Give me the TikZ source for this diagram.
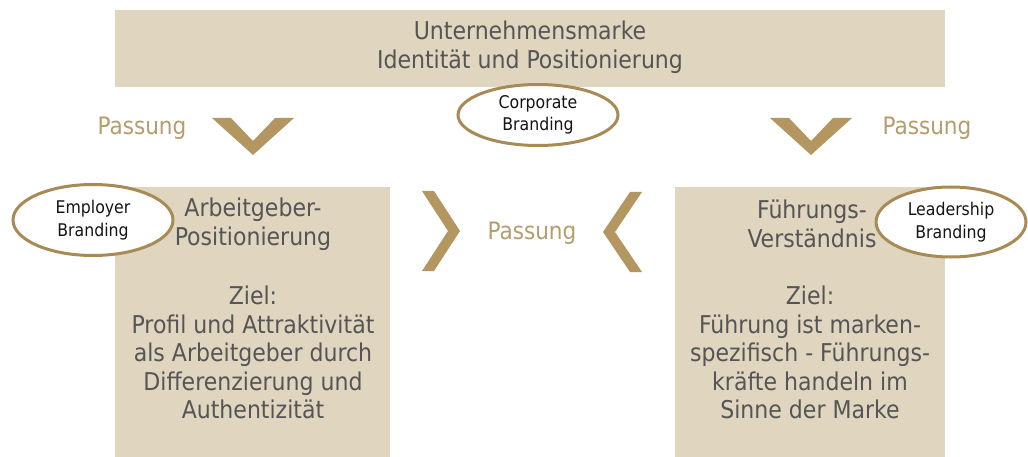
\documentclass[tikz,border=0pt]{standalone}
\usepackage{fontspec}
\setmainfont{DejaVu Sans Condensed}
\usetikzlibrary{shapes.geometric}
\definecolor{boxfill}{RGB}{224,214,192}
\definecolor{maintxt}{RGB}{85,85,85}
\definecolor{gold}{RGB}{180,150,96}
\definecolor{goldtxt}{RGB}{182,156,108}
\definecolor{ellline}{RGB}{168,138,85}
\tikzset{
  panel/.style={fill=boxfill, draw=none, inner sep=0pt},
  maintext/.style={text=maintxt, align=center, inner sep=0pt, font=\fontsize{24.5}{28.6}\selectfont},
  passtext/.style={text=goldtxt, inner sep=0pt, font=\fontsize{24}{24}\selectfont},
  brand/.style={ellipse, draw=ellline, line width=3pt, fill=white, align=center, inner sep=0pt, text=black!92, font=\fontsize{17.5}{22.5}\selectfont},
  chevron/.style={fill=gold, draw=none}
}
\begin{document}
\begin{tikzpicture}[x=1pt,y=-1pt]
\useasboundingbox (0,0) rectangle (1028,457);
% panels
\node[panel, minimum width=830pt, minimum height=77pt] (top) at (530,48.5) {};
\node[panel, minimum width=275pt, minimum height=270pt] (left) at (252.5,322) {};
\node[panel, minimum width=270pt, minimum height=270pt] (right) at (810,322) {};
% texts
\node[maintext] (toptext) at (530,47) {Unternehmensmarke\\Identität und Positionierung};
\node[maintext] (lefthead) at (253,224) {Arbeitgeber-\\Positionierung};
\node[maintext] (leftbody) at (253,352.5) {Ziel:\\Profil und Attraktivität\\als Arbeitgeber durch\\Differenzierung und\\Authentizität};
\node[maintext] (righthead) at (812,224) {Führungs-\\Verständnis};
\node[maintext] (rightbody) at (810,352.5) {Ziel:\\Führung ist marken-\\spezifisch - Führungs-\\kräfte handeln im\\Sinne der Marke};
\node[passtext] (pl) at (142,128.5) {Passung};
\node[passtext] (pr) at (927,128.5) {Passung};
\node[passtext] (pm) at (532,233.5) {Passung};
% chevrons
\fill[chevron] (212,118) -- (231,118) -- (253,141) -- (275,118) -- (294,118) -- (253,155) -- cycle;
\fill[chevron] (770,118) -- (789,118) -- (811,141) -- (833,118) -- (852,118) -- (811,155) -- cycle;
\fill[chevron] (422,191) -- (434,191) -- (460,231) -- (434,271) -- (422,271) -- (448,231) -- cycle;
\fill[chevron] (642,192) -- (630,192) -- (603,232) -- (630,272) -- (642,272) -- (615,232) -- cycle;
% brand ellipses
\node[brand, minimum width=160pt, minimum height=61pt] (corp) at (538,115) {Corporate\\Branding};
\node[brand, minimum width=160pt, minimum height=71pt] (emp) at (93,220) {Employer\\Branding};
\node[brand, minimum width=150pt, minimum height=70pt] (lead) at (951,222) {Leadership\\Branding};
\end{tikzpicture}
\end{document}
